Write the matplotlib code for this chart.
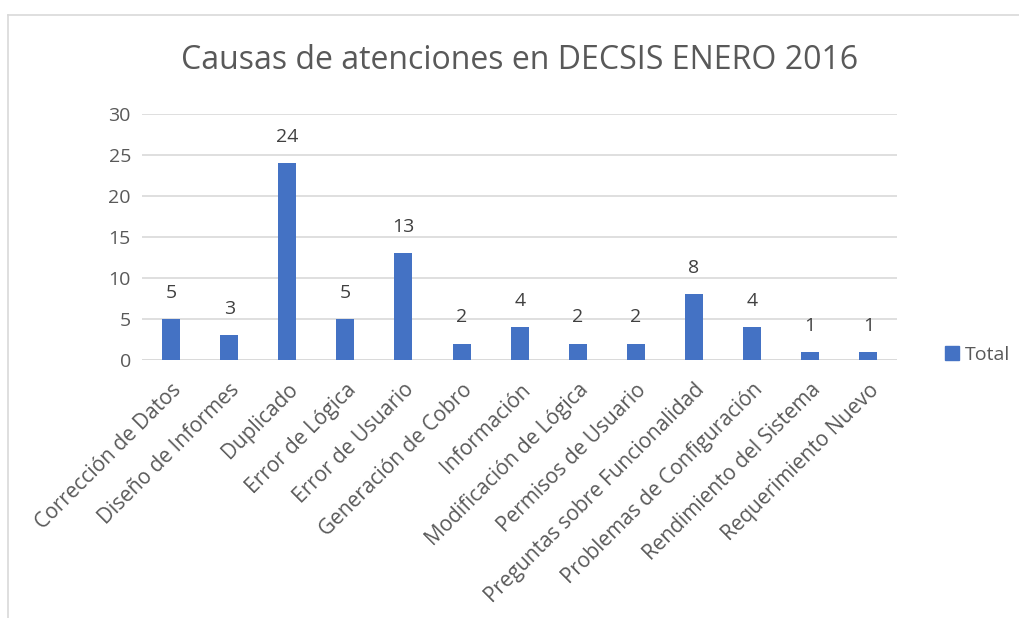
import matplotlib
matplotlib.use("Agg")
import matplotlib.pyplot as plt
from matplotlib.lines import Line2D
from matplotlib.patches import Patch

categories = ["Corrección de Datos", "Diseño de Informes", "Duplicado", "Error de Lógica",
              "Error de Usuario", "Generación de Cobro", "Información", "Modificación de Lógica",
              "Permisos de Usuario", "Preguntas sobre Funcionalidad", "Problemas de Configuración",
              "Rendimiento del Sistema", "Requerimiento Nuevo"]
totals = [5, 3, 24, 5, 13, 2, 4, 2, 2, 8, 4, 1, 1]
yticks = [0, 5, 10, 15, 20, 25, 30]

plt.rcParams['font.family'] = ['Open Sans', 'DejaVu Sans']

fig = plt.figure(figsize=(10.19, 6.18), dpi=100)
ax = fig.add_axes([0.1394, 0.4175, 0.7412, 0.398])

x = range(len(categories))
ax.bar(x, totals, width=0.31, color='#4472C4', zorder=3, label='Total')
for xi, v in zip(x, totals):
	ax.text(xi, v + 3.2, str(v), ha='center', va='center', fontsize=14, color='#404040')

ax.set_xlim(-0.5, len(categories) - 0.5)
ax.set_ylim(0, 30)
ax.set_yticks(yticks)
ax.yaxis.grid(True, color='#d9d9d9', linewidth=1.2, zorder=0)
for s in ax.spines.values():
	s.set_visible(False)
ax.axhline(0, color='#d9d9d9', linewidth=1.2, zorder=1)
ax.tick_params(axis='y', length=0, labelsize=14, colors='#595959', pad=8)
ax.set_xticks(list(x))
ax.set_xticklabels(categories, rotation=45, ha='right', rotation_mode='anchor')
ax.tick_params(axis='x', length=0, labelsize=15, colors='#595959', pad=14)

fig.text(0.51, 0.902, "Causas de atenciones en DECSIS ENERO 2016", ha='center', va='center',
         fontsize=23, color='#595959')

ax.legend(handles=[Patch(color='#4472C4', label='Total')], loc='center left',
          bbox_to_anchor=(1.04, 0.02), frameon=False, fontsize=14, labelcolor='#595959',
          handlelength=0.7, handleheight=0.7, handletextpad=0.3)

# outer chart frame (left and top edges visible)
fig.add_artist(Line2D([8 / 1019, 8 / 1019], [0, 1 - 15 / 618], transform=fig.transFigure,
                      color='#d9d9d9', linewidth=1.2))
fig.add_artist(Line2D([8 / 1019, 1], [1 - 15 / 618, 1 - 15 / 618], transform=fig.transFigure,
                      color='#d9d9d9', linewidth=1.2))

fig.savefig("out.png", dpi=100)
